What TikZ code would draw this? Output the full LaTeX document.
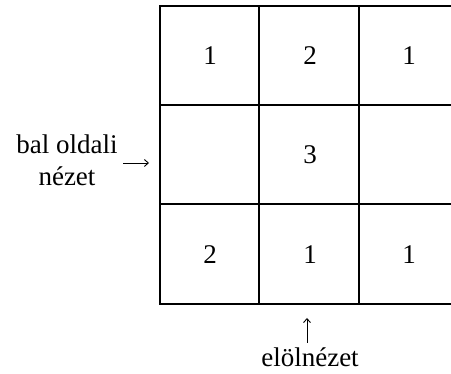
\documentclass[tikz,border=0pt]{standalone}
\usepackage{fontspec}
\setmainfont{Liberation Serif}
\usetikzlibrary{arrows.meta}
\begin{document}
\begin{tikzpicture}[x=1pt,y=1pt,
  gridline/.style={line width=1.7pt},
  num/.style={font=\fontsize{27}{32}\selectfont, anchor=base, inner sep=0pt},
  lbl/.style={font=\fontsize{27}{32}\selectfont, align=center, anchor=base, inner sep=0pt},
  arr/.style={line width=0.9pt, -{Straight Barb[length=4pt,width=7pt]}}]
\useasboundingbox (0,0) rectangle (451,374);
% grid
\draw[gridline] (160,368) rectangle (459,70);
\draw[gridline] (259,368) -- (259,70);
\draw[gridline] (359,368) -- (359,70);
\draw[gridline] (160,269) -- (459,269);
\draw[gridline] (160,170) -- (459,170);
% numbers
\node[num] (c11) at (210,309) {1};
\node[num] (c12) at (310,309) {2};
\node[num] (c13) at (409,309) {1};
\node[num] (c22) at (310,210) {3};
\node[num] (c31) at (210,110) {2};
\node[num] (c32) at (310,110) {1};
\node[num] (c33) at (409,110) {1};
% labels
\node[lbl] (left) at (67,188) {bal oldali\\nézet};
\node[lbl] (front) at (310,7) {elölnézet};
\coordinate (la) at (123,211);
\coordinate (lb) at (149,211);
\coordinate (fa) at (307,31);
\coordinate (fb) at (307,56);
\draw[arr] (la) -- (lb);
\draw[arr] (fa) -- (fb);
\end{tikzpicture}
\end{document}
